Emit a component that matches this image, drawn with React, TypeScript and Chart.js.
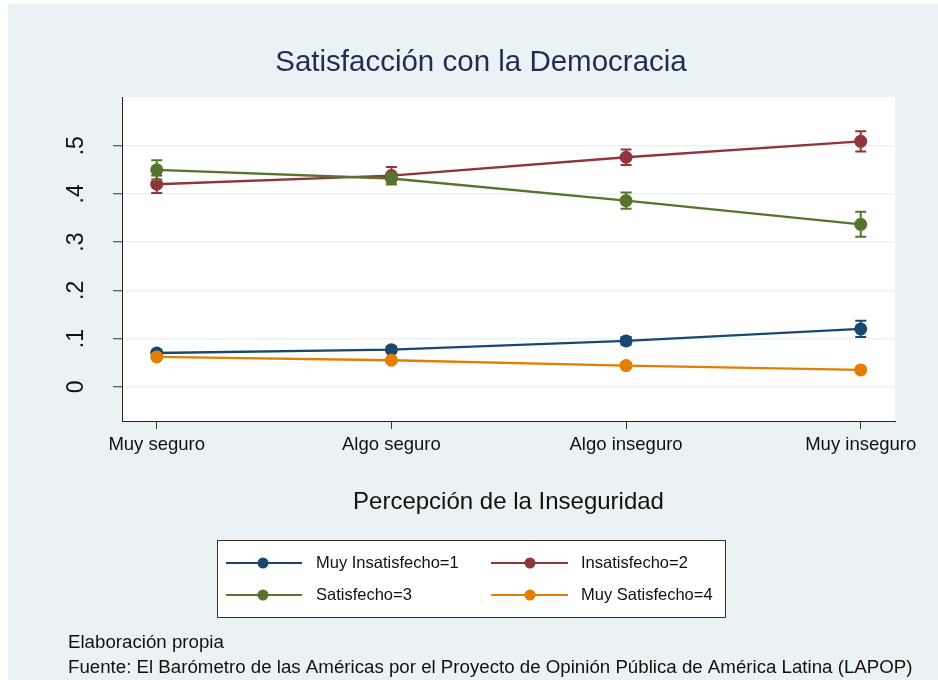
import React, { useEffect, useRef } from "react";
import { Chart, registerables } from "chart.js";

Chart.register(...registerables);

const TITLE = "Satisfacción con la Democracia";
const X_TITLE = "Percepción de la Inseguridad";
const FOOTER_1 = "Elaboración propia";
const FOOTER_2 = "Fuente: El Barómetro de las Américas por el Proyecto de Opinión Pública de América Latina (LAPOP)";

const CATEGORIES = ["Muy seguro", "Algo seguro", "Algo inseguro", "Muy inseguro"];
const SERIES_LABELS = ["Muy Insatisfecho=1", "Insatisfecho=2", "Satisfecho=3", "Muy Satisfecho=4"];

const MUY_INSATISFECHO = [0.070, 0.077, 0.095, 0.120];
const INSATISFECHO = [0.420, 0.438, 0.476, 0.509];
const SATISFECHO = [0.450, 0.432, 0.386, 0.337];
const MUY_SATISFECHO = [0.062, 0.055, 0.044, 0.035];

const ERR_MUY_INSATISFECHO = [0.006, 0.006, 0.008, 0.017];
const ERR_INSATISFECHO = [0.018, 0.018, 0.016, 0.021];
const ERR_SATISFECHO = [0.020, 0.012, 0.017, 0.026];
const ERR_MUY_SATISFECHO = [0.005, 0.005, 0.005, 0.005];

const Y_TICKS = [0, 0.1, 0.2, 0.3, 0.4, 0.5];
const Y_MIN = -0.071;
const Y_MAX = 0.601;
const X_MIN = -0.148;
const X_MAX = 3.146;

const COLORS = ["#1a476f", "#90353b", "#55752f", "#e37e00"];
const FONT = "'Liberation Sans', Arial, sans-serif";

const fmtY = (v: number) => (v === 0 ? "0" : "." + Math.round(v * 10));

const errorBars = {
  id: "errorBars",
  beforeDatasetDraw(chart: any, args: any) {
    const ds = chart.data.datasets[args.index];
    const errs: number[] = ds.errors;
    if (!errs) return;
    const { ctx, scales } = chart;
    ctx.save();
    ctx.strokeStyle = ds.borderColor;
    ctx.lineWidth = 2;
    ds.data.forEach((p: any, i: number) => {
      const x = scales.x.getPixelForValue(p.x);
      const y1 = scales.y.getPixelForValue(p.y - errs[i]);
      const y2 = scales.y.getPixelForValue(p.y + errs[i]);
      ctx.beginPath();
      ctx.moveTo(x, y1);
      ctx.lineTo(x, y2);
      ctx.moveTo(x - 5.5, y1);
      ctx.lineTo(x + 5.5, y1);
      ctx.moveTo(x - 5.5, y2);
      ctx.lineTo(x + 5.5, y2);
      ctx.stroke();
    });
    ctx.restore();
  },
};

const decor = {
  id: "decor",
  beforeDraw(chart: any) {
    const { ctx, chartArea: a } = chart;
    ctx.save();
    ctx.fillStyle = "#ffffff";
    ctx.fillRect(a.left, a.top, a.right - a.left, a.bottom - a.top);
    ctx.restore();
  },
  afterDraw(chart: any) {
    const { ctx, scales, chartArea: a } = chart;
    ctx.save();
    // title
    ctx.fillStyle = "#1e2d53";
    ctx.font = `29.5px ${FONT}`;
    ctx.textAlign = "center";
    ctx.textBaseline = "middle";
    ctx.fillText(TITLE, 473, 59);

    // y tick labels (rotated)
    ctx.fillStyle = "#111";
    ctx.font = `23px ${FONT}`;
    Y_TICKS.forEach((v) => {
      const y = scales.y.getPixelForValue(v);
      ctx.save();
      ctx.translate(69, y);
      ctx.rotate(-Math.PI / 2);
      ctx.textAlign = "center";
      ctx.textBaseline = "middle";
      ctx.fillText(fmtY(v), 0, 0);
      ctx.restore();
    });

    // x axis title
    ctx.fillStyle = "#111";
    ctx.font = `24px ${FONT}`;
    ctx.textAlign = "center";
    ctx.textBaseline = "middle";
    ctx.fillText(X_TITLE, (a.left + a.right) / 2, 498);

    // legend
    const lx = 209, ly = 536, lw = 508, lh = 77;
    ctx.fillStyle = "#ffffff";
    ctx.fillRect(lx, ly, lw, lh);
    ctx.strokeStyle = "#333";
    ctx.lineWidth = 1;
    ctx.strokeRect(lx + 0.5, ly + 0.5, lw, lh);
    const cols = [{ l0: 218, l1: 294, m: 255, t: 308 }, { l0: 483, l1: 560, m: 522, t: 573 }];
    const rows = [559, 591];
    chart.data.datasets.forEach((ds: any, i: number) => {
      const c = cols[i % 2];
      const r = rows[Math.floor(i / 2)];
      ctx.strokeStyle = ds.borderColor;
      ctx.lineWidth = 2;
      ctx.beginPath();
      ctx.moveTo(c.l0, r);
      ctx.lineTo(c.l1, r);
      ctx.stroke();
      ctx.fillStyle = ds.borderColor;
      ctx.beginPath();
      ctx.arc(c.m, r, 5.5, 0, Math.PI * 2);
      ctx.fill();
      ctx.fillStyle = "#111";
      ctx.font = `16.5px ${FONT}`;
      ctx.textAlign = "left";
      ctx.textBaseline = "middle";
      ctx.fillText(ds.label, c.t, r);
    });

    // footer
    ctx.fillStyle = "#111";
    ctx.font = `18.7px ${FONT}`;
    ctx.textAlign = "left";
    ctx.textBaseline = "middle";
    ctx.fillText(FOOTER_1, 60, 639);
    ctx.fillText(FOOTER_2, 60, 664);
    ctx.restore();
  },
};

export default function App() {
  const ref = useRef<HTMLCanvasElement | null>(null);
  useEffect(() => {
    document.body.style.overflow = "hidden";
    const series = [MUY_INSATISFECHO, INSATISFECHO, SATISFECHO, MUY_SATISFECHO];
    const errs = [ERR_MUY_INSATISFECHO, ERR_INSATISFECHO, ERR_SATISFECHO, ERR_MUY_SATISFECHO];
    const chart = new Chart(ref.current as HTMLCanvasElement, {
      type: "line",
      data: {
        datasets: series.map((vals, s) => ({
          label: SERIES_LABELS[s],
          data: vals.map((v, i) => ({ x: i, y: v })),
          errors: errs[s],
          borderColor: COLORS[s],
          backgroundColor: COLORS[s],
          pointBackgroundColor: COLORS[s],
          pointBorderColor: COLORS[s],
          pointRadius: 6.5,
          pointBorderWidth: 0,
          borderWidth: 2.3,
          tension: 0,
          order: 4 - s,
        })) as any,
      },
      options: {
        animation: false,
        responsive: true,
        maintainAspectRatio: false,
        events: [],
        layout: { padding: { top: 93, right: 43, left: 0, bottom: 199 } },
        plugins: {
          legend: { display: false },
          title: { display: false },
          tooltip: { enabled: false },
        },
        scales: {
          x: {
            type: "linear",
            min: X_MIN,
            max: X_MAX,
            afterBuildTicks: (s: any) => {
              s.ticks = CATEGORIES.map((_, i) => ({ value: i }));
            },
            afterFit: (s: any) => {
              s.height = 60;
            },
            ticks: {
              callback: (v: any) => CATEGORIES[v],
              font: { family: FONT, size: 18.5 },
              color: "#111",
              padding: 5,
              maxRotation: 0,
              autoSkip: false,
            },
            grid: { drawOnChartArea: false, tickColor: "#333", tickLength: 8, tickWidth: 1 },
            border: { color: "#222", width: 1 },
          },
          y: {
            type: "linear",
            min: Y_MIN,
            max: Y_MAX,
            afterBuildTicks: (s: any) => {
              s.ticks = Y_TICKS.map((v) => ({ value: v }));
            },
            afterFit: (s: any) => {
              s.width = 114;
            },
            ticks: { display: false },
            grid: { color: "#eaf2f3", lineWidth: 1.5, tickColor: "#333", tickLength: 9, tickWidth: 1 },
            border: { color: "#222", width: 1 },
          },
        },
      } as any,
      plugins: [decor, errorBars],
    });
    return () => chart.destroy();
  }, []);
  return (
    <div style={{ position: "absolute", left: 8, top: 4, width: 930, height: 676, background: "#eaf2f3" }}>
      <canvas ref={ref} />
    </div>
  );
}
